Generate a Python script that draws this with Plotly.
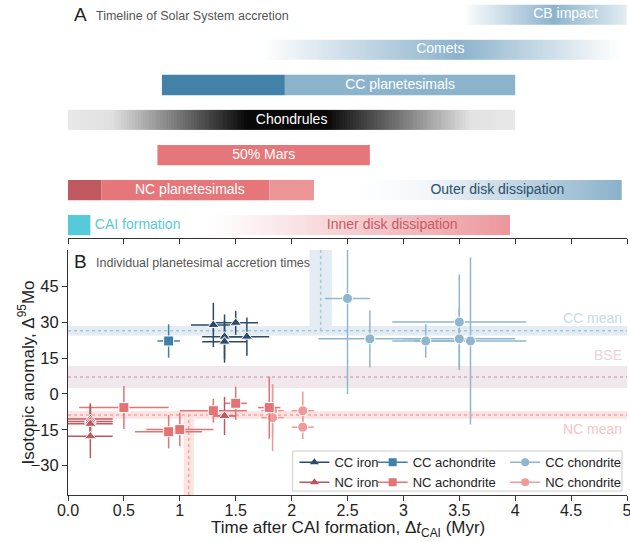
import numpy as np
import plotly.graph_objects as go

# ---------------- Panel A: timeline of Solar System accretion ----------------
# rows counted from bottom (0) to top (6)
solid_rows = [4, 4, 2, 1, 1, 1, 0]
solid_start = [0.84, 1.94, 0.80, 0.00, 0.30, 1.80, 0.00]
solid_end = [1.94, 4.00, 2.70, 0.30, 1.80, 2.20, 0.20]

grad_rows = [6, 5, 3, 1, 0]
grad_start = [3.53, 1.72, 0.00, 2.60, 1.27]
grad_end = [5.00, 4.94, 4.00, 4.95, 3.95]

label_text = ["CB impact", "Comets", "CC planetesimals", "Chondrules", "50% Mars",
              "NC planetesimals", "Outer disk dissipation", "CAI formation",
              "Inner disk dissipation"]
label_rows = [6, 5, 4, 3, 2, 1, 1, 0, 0]
label_x = [4.45, 3.33, 2.97, 2.00, 1.75, 1.09, 3.84, 0.24, 2.90]

# ---------------- Panel B: individual planetesimal accretion times ----------------
cc_iron_t = [1.30, 1.50, 1.40, 1.40, 1.60]
cc_iron_mo = [28.9, 29.8, 24.0, 21.9, 24.0]
cc_iron_terr = [0.20, 0.20, 0.20, 0.20, 0.20]
cc_iron_moerr = [9.3, 5.0, 9.3, 8.8, 8.0]

cc_achon_t = [0.90]
cc_achon_mo = [22.2]
cc_achon_terr = [0.10]
cc_achon_moerr = [7.0]

cc_chon_t = [2.50, 2.70, 3.20, 3.50, 3.50, 3.60]
cc_chon_mo = [40.0, 23.1, 22.2, 30.1, 23.1, 22.2]
cc_chon_terr = [0.20, 0.46, 0.30, 0.60, 0.50, 0.50]
cc_chon_moerr = [40.0, 12.0, 7.0, 20.0, 13.0, 35.0]

nc_iron_t = [0.20, 0.20, 0.20, 0.20, 1.40]
nc_iron_mo = [-10.5, -11.5, -12.5, -17.7, -9.2]
nc_iron_terr = [0.20, 0.20, 0.20, 0.20, 0.10]
nc_iron_moerr = [6.6, 7.0, 7.0, 9.2, 8.0]

nc_achon_t = [0.50, 0.90, 1.00, 1.30, 1.50, 1.80]
nc_achon_mo = [-5.7, -15.8, -14.9, -7.0, -3.9, -5.7]
nc_achon_terr = [0.40, 0.30, 0.30, 0.30, 0.10, 0.10]
nc_achon_moerr = [9.0, 7.0, 7.0, 5.0, 7.0, 13.0]

nc_chon_t = [1.83, 1.83, 2.10, 2.10]
nc_chon_mo = [-7.0, -9.9, -7.0, -13.9]
nc_chon_terr = [0.10, 0.10, 0.10, 0.10]
nc_chon_moerr = [11.0, 14.0, 8.0, 5.0]

cc_mean, cc_sd = 26.5, 2.0
bse_mean, bse_sd = 7.1, 4.6
nc_mean, nc_sd = -8.8, 1.6
cc_time, cc_time_err = 2.26, 0.10
nc_time, nc_time_err = 1.08, 0.045

x_ticks = [0, 0.5, 1, 1.5, 2, 2.5, 3, 3.5, 4, 4.5, 5]
x_ticktext = ["0.0", "0.5", "1", "1.5", "2", "2.5", "3", "3.5", "4", "4.5", "5"]
y_ticks = [-30, -15, 0, 15, 30, 45]

X_RANGE = [0, 5]
Y_RANGE = [-42.3, 60.3]
A_RANGE = [-0.37, 6.34]

# ---------------- styles ----------------
BAR_H = 0.58
solid_colors = ["#4282a9", "#8cb3cc", "#e57679", "#c0585f", "#e57679", "#eb9597", "#56cad8"]
grad_scales = [
    [[0, "#ffffff"], [0.55, "#8cb3cc"], [1, "#e3ecf2"]],
    [[0, "#ffffff"], [0.55, "#8cb3cc"], [1, "#ffffff"]],
    [[0, "#e8e8e8"], [0.10, "#e0e0e0"], [0.40, "#080808"], [0.58, "#080808"],
     [0.90, "#e2e2e2"], [1, "#e8e8e8"]],
    [[0, "#ffffff"], [0.25, "#f3f7fa"], [1, "#8ab1ca"]],
    [[0, "#ffffff"], [0.2, "#fbeced"], [1, "#ec979c"]],
]
label_colors = ["#ffffff", "#ffffff", "#ffffff", "#ffffff", "#ffffff", "#ffffff",
                "#2c4f6b", "#56cad8", "#c75b66"]
label_pos = ["middle center"] * 7 + ["middle right", "middle center"]

C_CC_IRON = "#2b4b68"
C_NC_IRON = "#c0565e"
C_CC_ACH = "#3e80aa"
C_NC_ACH = "#e57373"
C_CC_CHON = "#8fb6cf"
C_NC_CHON = "#ef9a9a"

FONT = "Liberation Sans, Arial, sans-serif"

fig = go.Figure()

# gradient bars (panel A)
for r, s, e, cs in zip(grad_rows, grad_start, grad_end, grad_scales):
    xe = np.linspace(s, e, 161)
    zc = (xe[:-1] + xe[1:]) / 2
    fig.add_trace(go.Heatmap(x=xe, y=[r - BAR_H / 2, r + BAR_H / 2], z=[zc], zmin=s, zmax=e,
                             colorscale=cs, showscale=False, hoverinfo="skip",
                             xaxis="x2", yaxis="y2"))

# solid bars (panel A)
fig.add_trace(go.Bar(orientation="h", y=solid_rows,
                     x=[e - s for s, e in zip(solid_start, solid_end)],
                     base=solid_start, width=BAR_H,
                     marker=dict(color=solid_colors, line=dict(width=0)),
                     showlegend=False, hoverinfo="skip", xaxis="x2", yaxis="y2"))

# bar labels
fig.add_trace(go.Scatter(x=label_x, y=label_rows, mode="text", text=label_text,
                         textposition=label_pos,
                         textfont=dict(size=14, color=label_colors, family=FONT),
                         showlegend=False, hoverinfo="skip", xaxis="x2", yaxis="y2"))


# ---------------- Panel B points ----------------
def add_group(t, mo, terr, moerr, color, symbol, size):
    fig.add_trace(go.Scatter(
        x=t, y=mo, mode="markers",
        error_x=dict(type="data", array=terr, color=color, thickness=1.5, width=0),
        error_y=dict(type="data", array=moerr, color=color, thickness=1.5, width=0),
        marker=dict(color=color, symbol=symbol, size=size, line=dict(color="white", width=1)),
        showlegend=False, hoverinfo="skip", xaxis="x", yaxis="y"))


add_group(cc_chon_t, cc_chon_mo, cc_chon_terr, cc_chon_moerr, C_CC_CHON, "circle", 10)
add_group(nc_chon_t, nc_chon_mo, nc_chon_terr, nc_chon_moerr, C_NC_CHON, "circle", 10)
add_group(nc_achon_t, nc_achon_mo, nc_achon_terr, nc_achon_moerr, C_NC_ACH, "square", 10)
add_group(cc_achon_t, cc_achon_mo, cc_achon_terr, cc_achon_moerr, C_CC_ACH, "square", 10)
add_group(nc_iron_t, nc_iron_mo, nc_iron_terr, nc_iron_moerr, C_NC_IRON, "triangle-up", 10)
add_group(cc_iron_t, cc_iron_mo, cc_iron_terr, cc_iron_moerr, C_CC_IRON, "triangle-up", 10)

# legend entries (three column legends)
leg_items = [
    ("CC iron", C_CC_IRON, "triangle-up", "legend"),
    ("NC iron", C_NC_IRON, "triangle-up", "legend"),
    ("CC achondrite", C_CC_ACH, "square", "legend2"),
    ("NC achondrite", C_NC_ACH, "square", "legend2"),
    ("CC chondrite", C_CC_CHON, "circle", "legend3"),
    ("NC chondrite", C_NC_CHON, "circle", "legend3"),
]
for name, col, sym, leg in leg_items:
    fig.add_trace(go.Scatter(x=[None], y=[None], mode="lines+markers", name=name,
                             line=dict(color=col, width=1.5),
                             marker=dict(color=col, symbol=sym, size=8),
                             legend=leg, xaxis="x", yaxis="y"))

# ---------------- bands ----------------
shapes = []
for m, sd, fill, dot in [(cc_mean, cc_sd, "#e3ecf2", "#a9c4d6"),
                         (bse_mean, bse_sd, "#f1e8ee", "#d9aab9"),
                         (nc_mean, nc_sd, "#fde2e2", "#f2a7a7")]:
    shapes.append(dict(type="rect", xref="x", yref="y", x0=X_RANGE[0], x1=X_RANGE[1],
                       y0=m - sd, y1=m + sd, fillcolor=fill, line=dict(width=0), layer="below"))
    shapes.append(dict(type="line", xref="x", yref="y", x0=X_RANGE[0], x1=X_RANGE[1],
                       y0=m, y1=m, line=dict(color=dot, width=1.5, dash="dot"), layer="below"))
shapes.append(dict(type="rect", xref="x", yref="y", x0=cc_time - cc_time_err, x1=cc_time + cc_time_err,
                   y0=cc_mean + cc_sd, y1=Y_RANGE[1], fillcolor="#e3ecf2", line=dict(width=0), layer="below"))
shapes.append(dict(type="line", xref="x", yref="y", x0=cc_time, x1=cc_time,
                   y0=cc_mean, y1=Y_RANGE[1], line=dict(color="#a9c4d6", width=1.5, dash="dot"), layer="below"))
shapes.append(dict(type="rect", xref="x", yref="y", x0=nc_time - nc_time_err, x1=nc_time + nc_time_err,
                   y0=Y_RANGE[0], y1=nc_mean - nc_sd, fillcolor="#fde2e2", line=dict(width=0), layer="below"))
shapes.append(dict(type="line", xref="x", yref="y", x0=nc_time, x1=nc_time,
                   y0=Y_RANGE[0], y1=nc_mean, line=dict(color="#f2a7a7", width=1.5, dash="dot"), layer="below"))
# legend frame
shapes.append(dict(type="rect", xref="paper", yref="paper", x0=0.402, x1=0.991, y0=0.008, y1=0.0894,
                   fillcolor="white", line=dict(color="#cccccc", width=1), layer="above"))

annotations = [
    dict(text="A", x=0.008, y=0.976, xref="paper", yref="paper", xanchor="left", yanchor="middle",
         showarrow=False, font=dict(size=19, color="#222", family=FONT)),
    dict(text="Timeline of Solar System accretion", x=0.047, y=0.974, xref="paper", yref="paper",
         xanchor="left", yanchor="middle", showarrow=False, font=dict(size=12.5, color="#555", family=FONT)),
    dict(text="B", x=0.008, y=0.4736, xref="paper", yref="paper", xanchor="left", yanchor="middle",
         showarrow=False, font=dict(size=19, color="#222", family=FONT)),
    dict(text="Individual planetesimal accretion times", x=0.047, y=0.4716, xref="paper", yref="paper",
         xanchor="left", yanchor="middle", showarrow=False, font=dict(size=12.5, color="#555", family=FONT)),
    dict(text="CC mean", x=4.97, y=cc_mean + 5.3, xref="x", yref="y", xanchor="right", yanchor="middle",
         showarrow=False, font=dict(size=14, color="#c6dae7", family=FONT)),
    dict(text="BSE", x=4.97, y=bse_mean + 9.2, xref="x", yref="y", xanchor="right", yanchor="middle",
         showarrow=False, font=dict(size=14, color="#ebcfd9", family=FONT)),
    dict(text="NC mean", x=4.97, y=nc_mean - 5.8, xref="x", yref="y", xanchor="right", yanchor="middle",
         showarrow=False, font=dict(size=14, color="#f8c3c3", family=FONT)),
    # axis titles
    dict(text="Time after CAI formation, Δ<i>t</i><sub>CAI</sub> (Myr)", x=0.5, y=-0.069,
         xref="paper", yref="paper", xanchor="center", yanchor="middle", showarrow=False,
         font=dict(size=17, color="#222", family=FONT)),
    dict(text="Isotopic anomaly, Δ<sup>95</sup>Mo", x=-0.0735, y=0.249, textangle=-90,
         xref="paper", yref="paper", xanchor="center", yanchor="middle", showarrow=False,
         font=dict(size=17, color="#222", family=FONT)),
]

leg_common = dict(yanchor="top", xanchor="left", bgcolor="rgba(0,0,0,0)", borderwidth=0,
                  font=dict(size=13, color="#222", family=FONT), itemwidth=30,
                  tracegroupgap=0)

fig.update_layout(
    width=630, height=542,
    margin=dict(l=68, r=3, t=3, b=47, autoexpand=False),
    paper_bgcolor="white", plot_bgcolor="white",
    font=dict(family=FONT, color="#222"),
    barmode="overlay",
    shapes=shapes, annotations=annotations,
    legend=dict(x=0.405, y=0.097, **leg_common),
    legend2=dict(x=0.545, y=0.097, **leg_common),
    legend3=dict(x=0.782, y=0.097, **leg_common),
    xaxis=dict(domain=[0, 1], range=X_RANGE, anchor="y", tickvals=x_ticks, ticktext=x_ticktext,
               showline=True, linecolor="#333", linewidth=1, ticks="outside", ticklen=5,
               tickcolor="#333", tickfont=dict(size=16, color="#222"), showgrid=False, zeroline=False,
               automargin=False, ticklabeloverflow="allow", ticklabelstandoff=-4),
    yaxis=dict(domain=[0, 0.498], range=Y_RANGE, anchor="x", tickvals=y_ticks,
               showline=True, linecolor="#333", linewidth=1, ticks="outside", ticklen=5,
               tickcolor="#333", tickfont=dict(size=16.5, color="#222"), showgrid=False, zeroline=False,
               automargin=False, ticklabeloverflow="allow"),
    xaxis2=dict(domain=[0, 1], range=X_RANGE, anchor="y2", tickvals=x_ticks, showticklabels=False,
                showline=True, linecolor="#333", linewidth=1, ticks="outside", ticklen=5,
                tickcolor="#333", showgrid=False, zeroline=False, automargin=False),
    yaxis2=dict(domain=[0.522, 1], range=A_RANGE, anchor="x2", visible=False, showgrid=False,
                zeroline=False, automargin=False),
)

fig.write_html("out.html", config={"displayModeBar": False},
               post_script="document.body.style.margin='0';")
